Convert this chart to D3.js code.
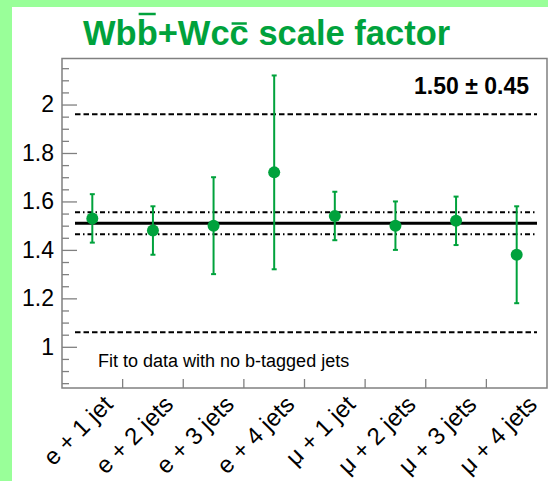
<!DOCTYPE html>
<html>
<head>
<meta charset="utf-8">
<script src="https://cdn.jsdelivr.net/npm/d3@7"></script>
<style>
  html, body { margin: 0; padding: 0; background: #99ff99; }
  svg { display: block; }
</style>
</head>
<body>
<div id="chart"></div>
<script>
// channels and fitted scale factors
const categories = ["e + 1 jet", "e + 2 jets", "e + 3 jets", "e + 4 jets",
                    "\u03bc + 1 jet", "\u03bc + 2 jets", "\u03bc + 3 jets", "\u03bc + 4 jets"];
const values = [1.53, 1.48, 1.50, 1.72, 1.54, 1.50, 1.52, 1.38];
const errors = [0.10, 0.10, 0.20, 0.40, 0.10, 0.10, 0.10, 0.20];
// combined result: central line, stat band, full band
const combined = 1.51;
const statBand = [1.465, 1.555];
const fullBand = [1.06, 1.96];
const yMajorTicks = [1, 1.2, 1.4, 1.6, 1.8, 2];

const width = 548, height = 481;
const green = "#00a23c";
const frameColor = "#808080";
const font = "'Liberation Sans', Arial, sans-serif";

const svg = d3.select("#chart").append("svg")
    .attr("width", width)
    .attr("height", height);

// white pad (green shows on top and left)
svg.append("rect")
    .attr("x", 12).attr("y", 7)
    .attr("width", width - 12).attr("height", height - 7)
    .attr("fill", "white");

const plot = {left: 62, right: 547, top: 58.5, bottom: 388};

const x = d3.scaleBand().domain(categories).range([plot.left, plot.right]).padding(0);
const y = d3.scaleLinear().domain([0.83, 2.19]).range([plot.bottom, plot.top]);

// title with bars over second b and second c
const title = svg.append("text")
    .attr("x", 83).attr("y", 45)
    .attr("font-family", font)
    .attr("font-weight", "bold")
    .attr("font-size", 34.5)
    .attr("fill", green)
    .text("Wbb+Wcc scale factor");
const titleNode = title.node();
[[2, 14], [6, 23.5]].forEach(([idx, by]) => {
    const ext = titleNode.getExtentOfChar(idx);
    svg.append("line")
        .attr("x1", ext.x + 2).attr("x2", ext.x + ext.width - 2)
        .attr("y1", by).attr("y2", by)
        .attr("stroke", green).attr("stroke-width", 2.5);
});

// frame
svg.append("rect")
    .attr("x", plot.left).attr("y", plot.top)
    .attr("width", plot.right - plot.left).attr("height", plot.bottom - plot.top)
    .attr("fill", "none")
    .attr("stroke", frameColor).attr("stroke-width", 1.5);

// y axis, major and minor ticks pointing inward
const yMinor = d3.range(0.85, 2.19, 0.05).map(v => +v.toFixed(2))
    .filter(v => !yMajorTicks.some(m => Math.abs(m - v) < 1e-6));

svg.append("g")
    .attr("transform", `translate(${plot.left},0)`)
    .call(d3.axisLeft(y).tickValues(yMinor).tickSize(-7).tickFormat(""))
    .call(g => g.select(".domain").remove())
    .call(g => g.selectAll("line").attr("stroke", frameColor).attr("stroke-width", 1.3));

svg.append("g")
    .attr("transform", `translate(${plot.left},0)`)
    .call(d3.axisLeft(y).tickValues(yMajorTicks).tickSize(-15).tickPadding(8)
        .tickFormat(d => d3.format("")(d)))
    .call(g => g.select(".domain").remove())
    .call(g => g.selectAll("line").attr("stroke", frameColor).attr("stroke-width", 1.3))
    .call(g => g.selectAll("text")
        .attr("font-family", font).attr("font-size", 23).attr("fill", "black"));

// x axis ticks at bin edges
svg.append("g")
    .attr("transform", `translate(0,${plot.bottom})`)
    .call(d3.axisBottom(x).tickValues(categories.slice(1)).tickSize(-9).tickFormat("")
        .offset(0))
    .call(g => g.select(".domain").remove())
    .call(g => g.selectAll(".tick").attr("transform", d => `translate(${x(d)},0)`))
    .call(g => g.selectAll("line").attr("stroke", frameColor).attr("stroke-width", 1.3));

// rotated category labels
svg.append("g").selectAll("text")
    .data(categories)
    .join("text")
    .attr("transform", d => `translate(${x(d) + x.bandwidth() / 2 + 10},${plot.bottom + 6}) rotate(-45)`)
    .attr("text-anchor", "end")
    .attr("dy", "0.7em")
    .attr("font-family", font)
    .attr("font-size", 24)
    .attr("fill", "black")
    .text(d => d);

// horizontal result lines
const lineX1 = 75, lineX2 = 537;
const hLines = [
    {v: fullBand[0], dash: "5.5,3", w: 2},
    {v: fullBand[1], dash: "5.5,3", w: 2},
    {v: statBand[0], dash: "5,3,1.5,3", w: 2},
    {v: statBand[1], dash: "5,3,1.5,3", w: 2},
    {v: combined, dash: null, w: 3}
];
svg.append("g").selectAll("line")
    .data(hLines)
    .join("line")
    .attr("x1", lineX1).attr("x2", lineX2)
    .attr("y1", d => y(d.v)).attr("y2", d => y(d.v))
    .attr("stroke", "black")
    .attr("stroke-width", d => d.w)
    .attr("stroke-dasharray", d => d.dash);

// points with error bars
const pts = categories.map((c, i) => ({c, v: values[i], e: errors[i]}));
const cx = d => x(d.c) + x.bandwidth() / 2;
const gp = svg.append("g");
gp.selectAll(".err")
    .data(pts)
    .join("line")
    .attr("class", "err")
    .attr("x1", cx).attr("x2", cx)
    .attr("y1", d => y(d.v - d.e)).attr("y2", d => y(d.v + d.e))
    .attr("stroke", green).attr("stroke-width", 2);
["lo", "hi"].forEach(k => {
    gp.selectAll(".cap-" + k)
        .data(pts)
        .join("line")
        .attr("class", "cap-" + k)
        .attr("x1", d => cx(d) - 2.5).attr("x2", d => cx(d) + 2.5)
        .attr("y1", d => y(k === "lo" ? d.v - d.e : d.v + d.e))
        .attr("y2", d => y(k === "lo" ? d.v - d.e : d.v + d.e))
        .attr("stroke", green).attr("stroke-width", 2);
});
gp.selectAll("circle")
    .data(pts)
    .join("circle")
    .attr("cx", cx).attr("cy", d => y(d.v))
    .attr("r", 6)
    .attr("fill", green);

// annotations
svg.append("text")
    .attr("x", 529).attr("y", 94)
    .attr("text-anchor", "end")
    .attr("font-family", font)
    .attr("font-weight", "bold")
    .attr("font-size", 23)
    .attr("fill", "black")
    .text("1.50 \u00b1 0.45");

svg.append("text")
    .attr("x", 98).attr("y", 367)
    .attr("font-family", font)
    .attr("font-size", 18)
    .attr("fill", "black")
    .text("Fit to data with no b-tagged jets");
</script>
</body>
</html>
